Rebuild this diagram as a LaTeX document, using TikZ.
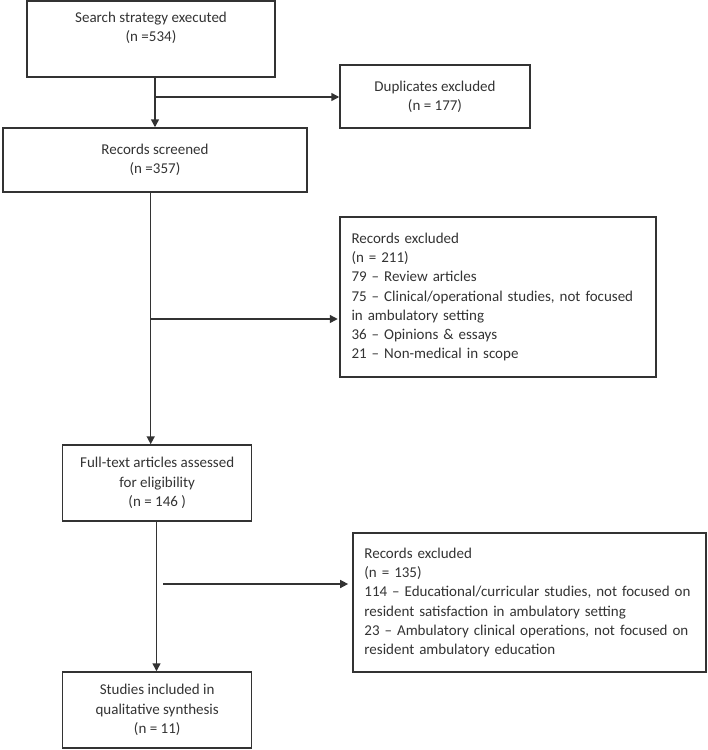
\documentclass[tikz,border=0pt]{standalone}
\usepackage{fontspec}
\setmainfont{Carlito}
\usetikzlibrary{arrows.meta,calc}
\definecolor{ink}{HTML}{333333}
\definecolor{txt}{HTML}{333333}
\tikzset{
  box/.style={draw=ink, line width=1.5pt, rectangle, inner sep=0pt, font=\fontsize{15}{19.2}\selectfont, text=txt, align=center},
  lbox/.style={box, align=left, inner xsep=11.5pt},
  arr/.style={draw=ink, line width=1.5pt, -{Triangle[length=8pt,width=8pt]}}
}
\begin{document}
\begin{tikzpicture}[x=1pt,y=-1pt]
\useasboundingbox (0,0) rectangle (708,750);
% boxes
\node[box, minimum width=248pt, minimum height=76pt] (b1) at (151,39) {Search strategy executed\\(n =534)\\\strut};
\node[box, minimum width=190pt, minimum height=63pt] (dup) at (435,96.5) {Duplicates excluded\\(n = 177)};
\node[box, minimum width=304pt, minimum height=64pt] (b2) at (155,160) {Records screened\\(n =357)};
\node[lbox, minimum width=316pt, minimum height=160pt, text width=293pt] (ex1) at (498,297) {Records excluded\\(n = 211)\\79 – Review articles\\75 – Clinical/operational studies, not focused\\in ambulatory setting\\36 – Opinions \& essays\\21 – Non-medical in scope};
\node[box, minimum width=189pt, minimum height=76pt] (b3) at (157.2,483) {Full-text articles assessed\\for eligibility\\(n = 146 )};
\node[lbox, minimum width=353pt, minimum height=139pt, text width=330pt] (ex2) at (529.4,602.5) {Records excluded\\(n = 135)\\114 – Educational/curricular studies, not focused on\\resident satisfaction in ambulatory setting\\23 – Ambulatory clinical operations, not focused on\\resident ambulatory education};
\node[box, minimum width=189pt, minimum height=76pt] (b4) at (157.2,710) {Studies included in\\qualitative synthesis\\(n = 11)};
% helper coordinates
\coordinate (c1) at (155,97);
\coordinate (c2) at (150.7,319);
\coordinate (c3x) at (156.5,0);
\coordinate (c3) at (163.4,584);
% connectors
\draw[arr] (b1.south -| b2.north) -- (b2.north);
\draw[arr] (c1) -- (c1 -| dup.west);
\draw[arr] (b2.south -| c2) -- (b3.north -| c2);
\draw[arr] (c2) -- ($(c2 -| ex1.west)+(-1.5,0)$);
\draw[arr] (b3.south -| c3x) -- (b4.north -| c3x);
\draw[arr] (c3) -- ($(c3 -| ex2.west)+(-4,0)$);
\end{tikzpicture}
\end{document}
